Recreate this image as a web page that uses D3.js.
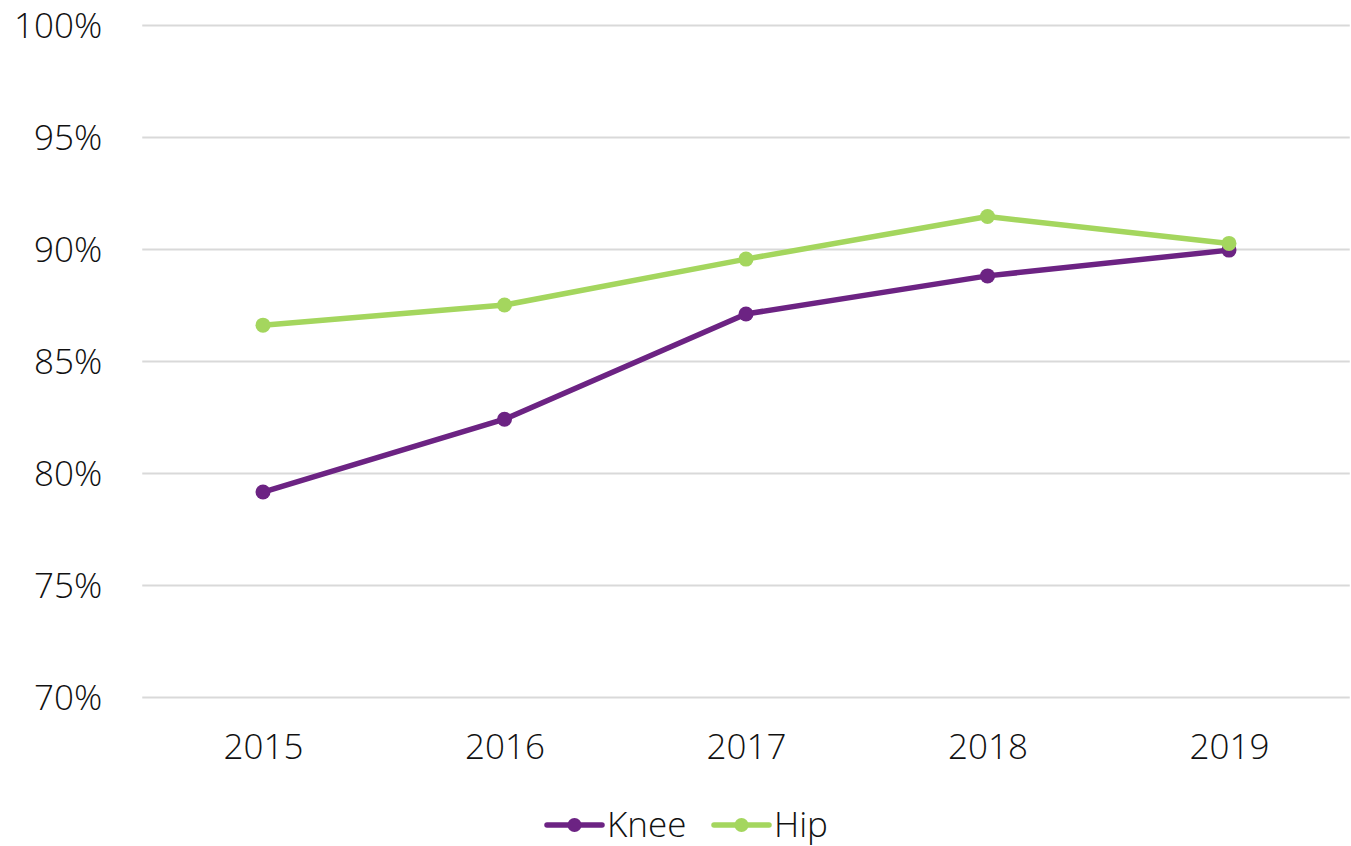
<!DOCTYPE html>
<html>
<head>
<meta charset="utf-8">
<script src="https://cdn.jsdelivr.net/npm/d3@7/dist/d3.min.js"></script>
<style>
  body { margin: 0; background: #fff; }
  svg text { font-family: "Open Sans", "Noto Sans", sans-serif; font-weight: 300; fill: #111; }
</style>
</head>
<body>
<svg width="1351" height="846"></svg>
<script>
// chart data
const years = ['2015', '2016', '2017', '2018', '2019'];
const knee = [79.15, 82.4, 87.1, 88.8, 89.95];
const hip = [86.6, 87.5, 89.55, 91.45, 90.25];
const yTicks = [70, 75, 80, 85, 90, 95, 100];
const seriesNames = ['Knee', 'Hip'];
const seriesColors = ['#6c2383', '#a4d65e'];

const svg = d3.select('svg');
const plotLeft = 142.25, plotRight = 1349.75, plotTop = 25, plotBottom = 697;

const x = d3.scalePoint().domain(years).range([plotLeft, plotRight]).padding(0.5);
const y = d3.scaleLinear().domain([70, 100]).range([plotBottom, plotTop]);

// gridlines
const yAxis = svg.append('g')
  .attr('transform', 'translate(' + plotLeft + ',0)')
  .call(d3.axisLeft(y).tickValues(yTicks).tickSize(-(plotRight - plotLeft)).tickPadding(40).tickFormat(d => d + '%'));
yAxis.select('.domain').remove();
yAxis.selectAll('line').attr('stroke', '#d9d9d9').attr('stroke-width', 2);
yAxis.selectAll('text').style('font-size', '35px').attr('dy', '0.35em');

const xAxis = svg.append('g')
  .attr('transform', 'translate(0,' + plotBottom + ')')
  .call(d3.axisBottom(x).tickSize(0).tickPadding(37));
xAxis.select('.domain').remove();
xAxis.selectAll('text').style('font-size', '35px');

const series = [knee, hip];
const line = d3.line().x((d, i) => x(years[i])).y(d => y(d));

series.forEach(function (vals, s) {
  svg.append('path')
    .datum(vals)
    .attr('d', line)
    .attr('fill', 'none')
    .attr('stroke', seriesColors[s])
    .attr('stroke-width', 5.5)
    .attr('stroke-linejoin', 'round');
  svg.append('g').selectAll('circle').data(vals).enter().append('circle')
    .attr('cx', (d, i) => x(years[i]))
    .attr('cy', d => y(d))
    .attr('r', 7.5)
    .attr('fill', seriesColors[s]);
});

// legend
const legendX = [547, 714];
const legend = svg.append('g').attr('transform', 'translate(0,825)');
seriesNames.forEach(function (name, s) {
  const g = legend.append('g').attr('transform', 'translate(' + legendX[s] + ',0)');
  g.append('line').attr('x1', 0).attr('x2', 55).attr('y1', 0).attr('y2', 0)
    .attr('stroke', seriesColors[s]).attr('stroke-width', 5.5).attr('stroke-linecap', 'round');
  g.append('circle').attr('cx', 27.5).attr('cy', 0).attr('r', 7).attr('fill', seriesColors[s]);
  g.append('text').attr('x', 60).attr('dy', '0.35em').style('font-size', '35px').text(name);
});
</script>
</body>
</html>
